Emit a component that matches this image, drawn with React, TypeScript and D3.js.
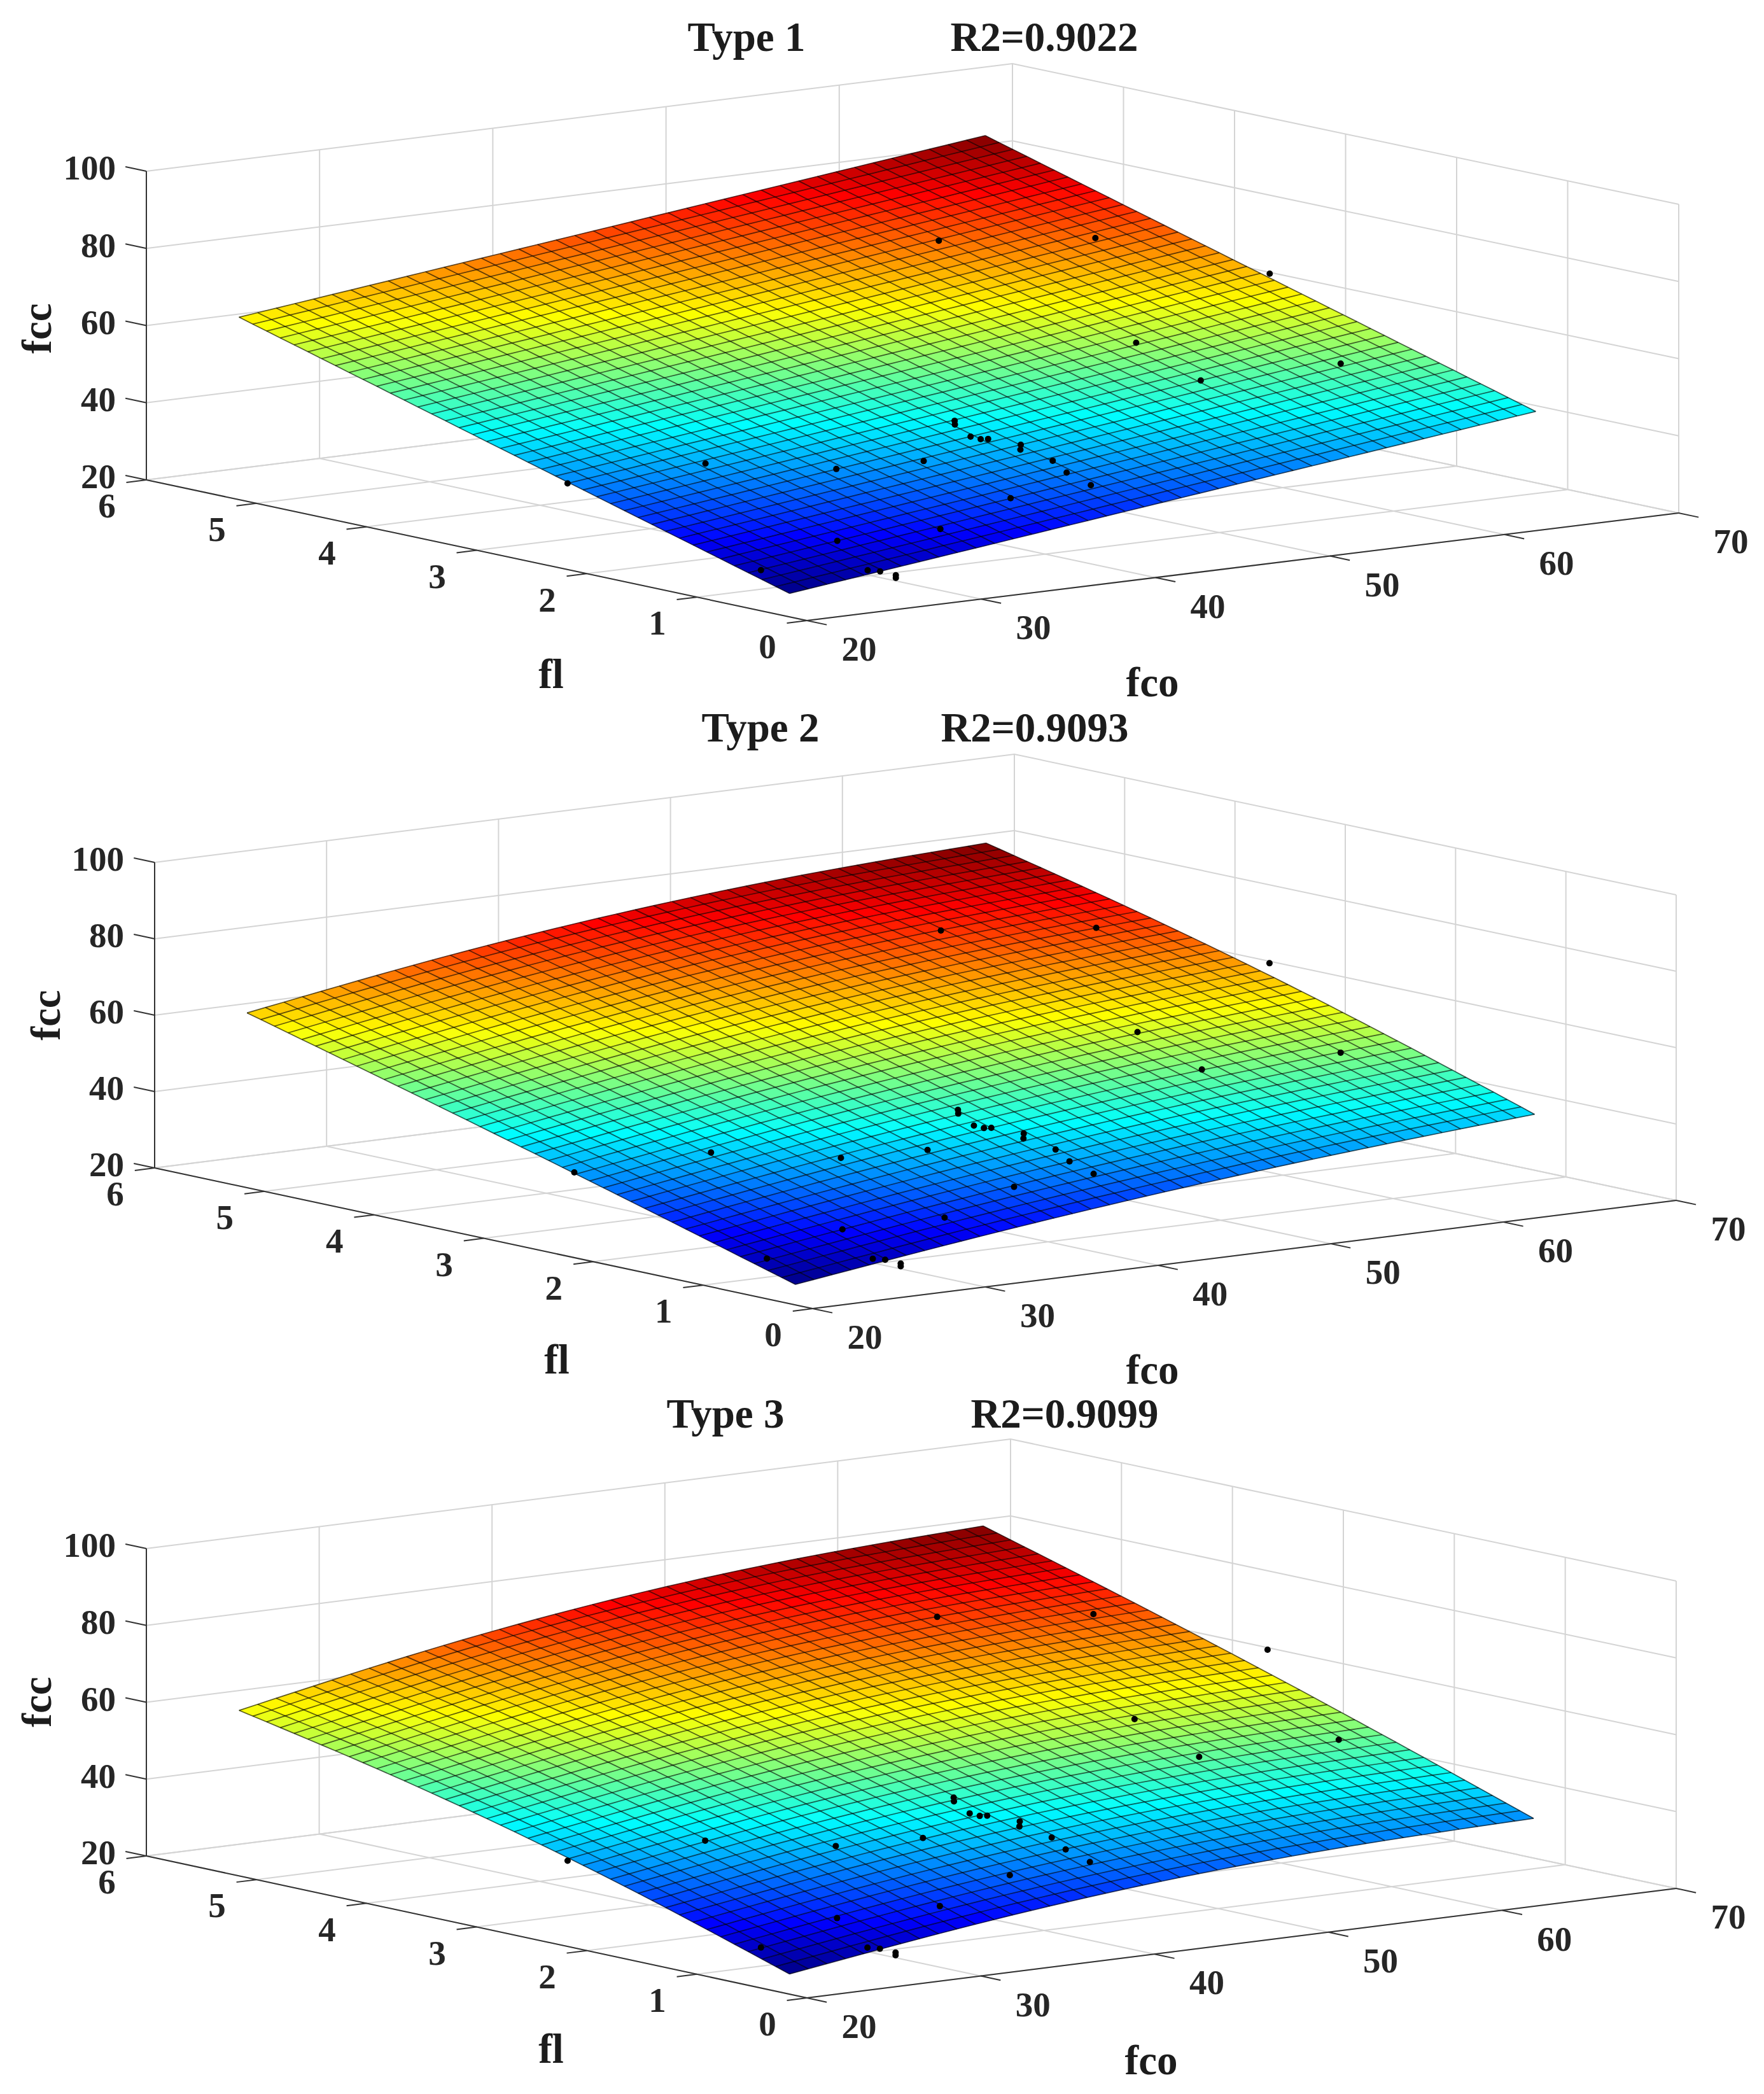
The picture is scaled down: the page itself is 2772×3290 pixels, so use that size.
import { useEffect, useRef } from "react";
import * as d3 from "d3";

const WIDTH = 2772;
const HEIGHT = 3290;

const flTicks = [0, 1, 2, 3, 4, 5, 6];
const fcoTicks = [20, 30, 40, 50, 60, 70];
const fccTicks = [20, 40, 60, 80, 100];

// fcc at these fl (rows) and fco (columns) positions
const surfaceFl = [0, 1.25, 2.5, 3.75, 5];
const surfaceFco = [19, 29.7, 40.4, 51.1, 61.8];

const type1Surface = [
  [27.6, 33.4, 39.3, 45.1, 50.9],
  [37.9, 43.7, 49.5, 55.3, 61.2],
  [48.2, 54.0, 59.8, 65.6, 71.5],
  [58.5, 64.3, 70.1, 75.9, 81.7],
  [68.8, 74.6, 80.4, 86.2, 92.0],
];
const type2Surface = [
  [26.9, 33.6, 39.2, 43.7, 47.2],
  [37.4, 44.7, 50.7, 55.5, 58.9],
  [47.6, 55.4, 61.7, 66.4, 69.6],
  [57.6, 65.6, 71.9, 76.4, 79.1],
  [67.3, 75.4, 81.4, 85.5, 87.5],
];
const type3Surface = [
  [26.8, 34.0, 39.1, 42.0, 42.9],
  [38.5, 46.0, 51.3, 54.3, 55.1],
  [48.7, 56.7, 62.4, 65.8, 66.8],
  [57.4, 66.2, 72.5, 76.4, 77.8],
  [64.6, 74.4, 81.6, 86.2, 88.2],
];

// measured specimens, same set in all three plots
const sampleFl = [2.0, 1.84, 1.38, 1.22, 1.62, 1.57, 1.38, 1.32, 1.3, 1.13, 1.07, 0.84, 0.65, 0.43, 0.51, 0.34, 0.5, 0.37, 0.05, 0, 0, 0, 3.87, 3.43, 2.48, 2.03, 1.38, 1.17];
const sampleFco = [18.9, 25.8, 30.4, 34.4, 38.7, 38.4, 38.1, 38.3, 38.6, 39.4, 39.0, 39.4, 39, 39, 34.9, 29.8, 24.9, 19.7, 23.8, 24.2, 25.1, 25.1, 52, 58.2, 62.2, 51.7, 51.3, 58];
const sampleFcc = [44, 46.3, 45.1, 45.9, 51.5, 51, 49.2, 48.8, 48.8, 47.9, 47.2, 45.5, 43.8, 41.9, 40.3, 36.2, 34.9, 31, 30.6, 30.4, 28.9, 28.2, 77.1, 77, 71.3, 62, 56.4, 58.3];

const jetStops = [0, 0.125, 0.375, 0.625, 0.875, 1];
const jetColors = ["#000084", "#0000ff", "#00ffff", "#ffff00", "#ff0000", "#800000"];

const MESH_CELLS = 40;
const FONT = "'Liberation Serif', 'Times New Roman', serif";

const panels = [
  {
    title: "Type 1",
    r2: "R2=0.9022",
    surface: type1Surface,
    left: [230, 754],
    front: [1268, 975],
    right: [2638, 806],
    backX: 1591,
    len: 485,
    titleX: 1173,
    r2X: 1641,
    titleY: 80,
    fccX: 80,
    fccY: 516,
    flLabel: [866, 1081],
    fcoLabel: [1811, 1094],
  },
  {
    title: "Type 2",
    r2: "R2=0.9093",
    surface: type2Surface,
    left: [243, 1835],
    front: [1277, 2056],
    right: [2634, 1886],
    backX: 1594,
    len: 480,
    titleX: 1195,
    r2X: 1626,
    titleY: 1165,
    fccX: 94,
    fccY: 1595,
    flLabel: [875, 2158],
    fcoLabel: [1811, 2174],
  },
  {
    title: "Type 3",
    r2: "R2=0.9099",
    surface: type3Surface,
    left: [230, 2916],
    front: [1268, 3139],
    right: [2634, 2967],
    backX: 1588,
    len: 483,
    titleX: 1140,
    r2X: 1673,
    titleY: 2243,
    fccX: 80,
    fccY: 2674,
    flLabel: [866, 3241],
    fcoLabel: [1809, 3259],
  },
];

function drawPanel(root, p) {
  const g = root.append("g").attr("filter", "url(#soften)");
  const fracFl = d3.scaleLinear().domain([0, 6]).range([0, 1]);
  const fracFco = d3.scaleLinear().domain([20, 70]).range([0, 1]);
  const rise = d3.scaleLinear().domain([20, 100]).range([0, p.len]);

  const project = (fl, fco, fcc) => {
    const a = fracFl(fl);
    const b = fracFco(fco);
    return [
      p.front[0] + a * (p.left[0] - p.front[0]) + b * (p.right[0] - p.front[0]),
      p.front[1] + a * (p.left[1] - p.front[1]) + b * (p.right[1] - p.front[1]) - rise(fcc),
    ];
  };
  // the box in the figure is not quite a parallelogram, the far corner sits further left
  const backShift = p.backX - (p.left[0] + p.right[0] - p.front[0]);
  const boxPoint = (fl, fco, fcc) => {
    const [x, y] = project(fl, fco, fcc);
    return [x + fracFl(fl) * fracFco(fco) * backShift, y];
  };
  const line = d3.line();
  const seg = (a, b) => line([a, b]);

  // back walls and floor
  const gridPaths = [
    ...flTicks.map((t) => seg(boxPoint(t, 20, 20), boxPoint(t, 70, 20))),
    ...fcoTicks.map((t) => seg(boxPoint(0, t, 20), boxPoint(6, t, 20))),
    ...fcoTicks.map((t) => seg(boxPoint(6, t, 20), boxPoint(6, t, 100))),
    ...flTicks.map((t) => seg(boxPoint(t, 70, 20), boxPoint(t, 70, 100))),
    ...fccTicks.map((t) => line([boxPoint(6, 20, t), boxPoint(6, 70, t), boxPoint(0, 70, t)])),
  ];
  g.append("g")
    .selectAll("path")
    .data(gridPaths)
    .join("path")
    .attr("d", (d) => d)
    .attr("fill", "none")
    .attr("stroke", "#d4d4d4")
    .attr("stroke-width", 2);

  // axis rulers and ticks
  const axisPaths = [
    seg(project(0, 20, 20), project(6, 20, 20)),
    seg(project(0, 20, 20), project(0, 70, 20)),
    seg(project(6, 20, 20), project(6, 20, 100)),
    ...flTicks.map((t) => seg(project(t, 20, 20), project(t, 18.85, 20))),
    ...fcoTicks.map((t) => seg(project(0, t, 20), project(-0.18, t, 20))),
    ...fccTicks.map((t) => seg(project(6, 20, t), project(6.19, 20, t))),
  ];
  g.append("g")
    .selectAll("path")
    .data(axisPaths)
    .join("path")
    .attr("d", (d) => d)
    .attr("fill", "none")
    .attr("stroke", "#333")
    .attr("stroke-width", 2);

  // surface: mesh sampled from the read table, basis spline so the edges stay smooth
  const meshFl = d3.scaleLinear().domain([0, MESH_CELLS]).range(d3.extent(surfaceFl));
  const meshFco = d3.scaleLinear().domain([0, MESH_CELLS]).range(d3.extent(surfaceFco));
  const tFl = d3.scaleLinear().domain(d3.extent(surfaceFl)).range([0, 1]);
  const tFco = d3.scaleLinear().domain(d3.extent(surfaceFco)).range([0, 1]);
  const rowSplines = p.surface.map((row) => d3.interpolateBasis(row));
  const fccAt = (fl, fco) => d3.interpolateBasis(rowSplines.map((s) => s(tFco(fco))))(tFl(fl));

  const steps = d3.range(MESH_CELLS + 1);
  const heights = steps.map((i) => steps.map((j) => fccAt(meshFl(i), meshFco(j))));
  const verts = steps.map((i) => steps.map((j) => project(meshFl(i), meshFco(j), heights[i][j])));

  const allHeights = heights.flat();
  const jet = d3
    .scaleLinear()
    .domain(jetStops.map((s) => d3.min(allHeights) + s * (d3.max(allHeights) - d3.min(allHeights))))
    .range(jetColors);

  const cells = [];
  for (const i of d3.range(MESH_CELLS)) {
    for (const j of d3.range(MESH_CELLS)) {
      cells.push({
        d: line([verts[i][j], verts[i + 1][j], verts[i + 1][j + 1], verts[i][j + 1]]) + "Z",
        fill: jet(d3.mean([heights[i][j], heights[i + 1][j], heights[i + 1][j + 1], heights[i][j + 1]])),
      });
    }
  }
  g.append("g")
    .selectAll("path")
    .data(cells)
    .join("path")
    .attr("d", (d) => d.d)
    .attr("fill", (d) => d.fill)
    .attr("stroke", (d) => d.fill)
    .attr("stroke-width", 0.6);

  const meshLines = [...verts, ...steps.map((j) => steps.map((i) => verts[i][j]))];
  g.append("g")
    .selectAll("path")
    .data(meshLines)
    .join("path")
    .attr("d", (d) => line(d))
    .attr("fill", "none")
    .attr("stroke", "#000")
    .attr("stroke-opacity", 0.62)
    .attr("stroke-width", 1.7);

  // specimens
  g.append("g")
    .selectAll("circle")
    .data(sampleFl.map((fl, i) => project(fl, sampleFco[i], sampleFcc[i])))
    .join("circle")
    .attr("cx", (d) => d[0])
    .attr("cy", (d) => d[1])
    .attr("r", 5)
    .attr("fill", "#000");

  // tick labels
  const tickText = (x, y, label, anchor = "middle") =>
    g
      .append("text")
      .attr("x", x)
      .attr("y", y)
      .attr("dy", "0.35em")
      .attr("text-anchor", anchor)
      .attr("font-family", FONT)
      .attr("font-weight", "bold")
      .attr("font-size", 55)
      .attr("fill", "#262626")
      .text(label);

  flTicks.forEach((t) => {
    const [x, y] = project(t, 20, 20);
    tickText(x - 62, y + 40, t);
  });
  fcoTicks.forEach((t) => {
    const [x, y] = project(0, t, 20);
    tickText(x + 82, y + 44, t);
  });
  fccTicks.forEach((t) => {
    const [x, y] = project(6, 20, t);
    tickText(x - 48, y - 6, t, "end");
  });

  // titles and axis names
  const bigText = (x, y, label) =>
    g
      .append("text")
      .attr("x", x)
      .attr("y", y)
      .attr("text-anchor", "middle")
      .attr("font-family", FONT)
      .attr("font-weight", "bold")
      .attr("font-size", 65)
      .attr("fill", "#1a1a1a")
      .text(label);

  bigText(p.titleX, p.titleY, p.title);
  bigText(p.r2X, p.titleY, p.r2);
  bigText(p.flLabel[0], p.flLabel[1], "fl");
  bigText(p.fcoLabel[0], p.fcoLabel[1], "fco");
  bigText(0, 0, "fcc").attr("transform", `translate(${p.fccX},${p.fccY}) rotate(-90)`);
}

export default function App() {
  const ref = useRef(null);

  useEffect(() => {
    const svg = d3.select(ref.current);
    svg.selectAll("g").remove();
    panels.forEach((p) => drawPanel(svg, p));
  }, []);

  return (
    <svg
      ref={ref}
      width={WIDTH}
      height={HEIGHT}
      viewBox={`0 0 ${WIDTH} ${HEIGHT}`}
      style={{ position: "absolute", left: 0, top: 0, background: "#fff" }}
    >
      <defs>
        {/* the source figure is a soft upscaled raster */}
        <filter id="soften" filterUnits="userSpaceOnUse" x="0" y="0" width={WIDTH} height={HEIGHT}>
          <feGaussianBlur stdDeviation="0.7" />
        </filter>
      </defs>
    </svg>
  );
}
